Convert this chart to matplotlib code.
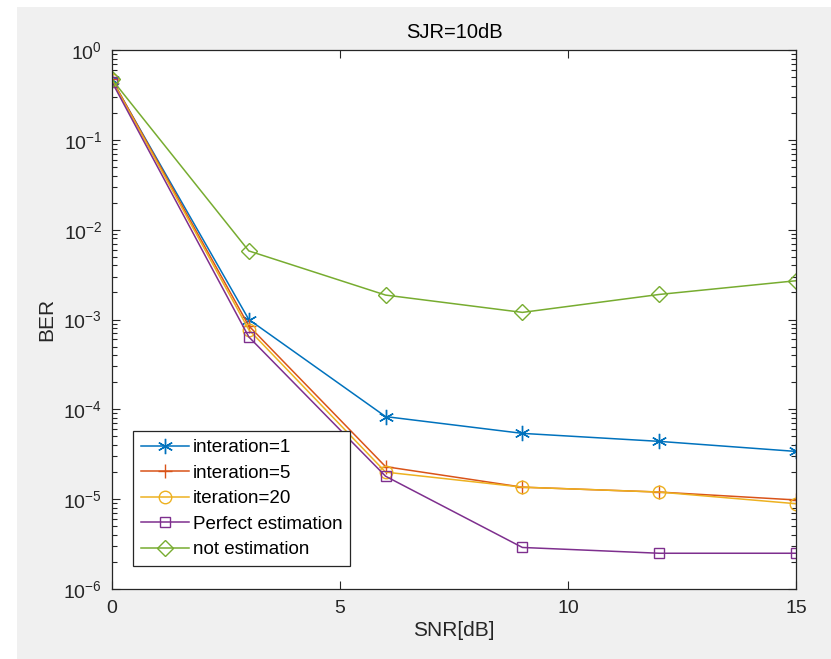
import matplotlib.pyplot as plt
import matplotlib.ticker as mticker
from matplotlib.patches import Rectangle

plt.rcParams['font.family'] = ['Liberation Sans', 'DejaVu Sans']

snr = [0, 3, 6, 9, 12, 15]
ber_it1 = [0.46, 1.0e-3, 8.3e-5, 5.4e-5, 4.4e-5, 3.4e-5]
ber_it5 = [0.47, 8.5e-4, 2.3e-5, 1.36e-5, 1.2e-5, 9.8e-6]
ber_it20 = [0.46, 7.7e-4, 2.0e-5, 1.36e-5, 1.2e-5, 8.9e-6]
ber_perfect = [0.44, 6.4e-4, 1.8e-5, 2.9e-6, 2.5e-6, 2.5e-6]
ber_none = [0.47, 5.8e-3, 1.87e-3, 1.2e-3, 1.9e-3, 2.7e-3]

labels = ['interation=1', 'interation=5', 'iteration=20',
          'Perfect estimation', 'not estimation']

fig = plt.figure(figsize=(8.31, 6.59), dpi=100)
fig.patch.set_facecolor('#f0f0f0')
# white strip at the left/top edge of the screenshot
fig.patches.append(Rectangle((0, 0), 17/831, 1, transform=fig.transFigure,
                             facecolor='white', edgecolor='none', zorder=-1))
fig.patches.append(Rectangle((0, 1-7/659), 1, 7/659, transform=fig.transFigure,
                             facecolor='white', edgecolor='none', zorder=-1))

ax = fig.add_axes([112/831, 1-589/659, (796-112)/831, (589-50)/659])
ax.set_facecolor('white')

asterisk = (6, 2, 0)
ax.semilogy(snr, ber_it1, '-', marker=asterisk, color='#0072BD', ms=11, mew=1.0, lw=1.1, label=labels[0])
ax.semilogy(snr, ber_it5, '-+', color='#D95319', ms=10, mew=1.0, lw=1.1, label=labels[1])
ax.semilogy(snr, ber_it20, '-o', color='#EDB120', ms=9, mfc='none', mew=1.0, lw=1.1, label=labels[2])
ax.semilogy(snr, ber_perfect, '-s', color='#7E2F8E', ms=7.5, mfc='none', mew=1.0, lw=1.1, label=labels[3])
ax.semilogy(snr, ber_none, '-D', color='#77AC30', ms=8, mfc='none', mew=1.0, lw=1.1, label=labels[4])

ax.set_xlim(0, 15)
ax.set_ylim(1e-6, 1e0)
ax.set_xticks([0, 5, 10, 15])
ax.yaxis.set_major_locator(mticker.LogLocator(base=10, numticks=10))
ax.yaxis.set_minor_locator(mticker.LogLocator(base=10, subs=range(2, 10), numticks=10))
ax.yaxis.set_minor_formatter(mticker.NullFormatter())
ax.tick_params(which='both', direction='in', top=True, right=True,
               colors='#262626', labelsize=14, width=0.8)
ax.tick_params(which='major', length=6)
ax.tick_params(which='minor', length=3.5)
ax.tick_params(axis='x', pad=8)
ax.tick_params(axis='y', pad=7)
for s in ax.spines.values():
    s.set_color('#262626')
    s.set_linewidth(0.9)

ax.set_xlabel('SNR[dB]', fontsize=15, color='#262626', labelpad=3)
ax.set_ylabel('BER', fontsize=15, color='#262626', labelpad=5)
ax.set_title('SJR=10dB', fontsize=14.5, color='#000000', pad=9)

leg = ax.legend(loc='lower left', bbox_to_anchor=(0.031, 0.043), fontsize=13.5,
                fancybox=False, framealpha=1, edgecolor='#262626',
                handlelength=2.6, borderpad=0.4, labelspacing=0.45,
                handletextpad=0.2, borderaxespad=0)
leg.get_frame().set_linewidth(0.9)

fig.savefig('out.png', dpi=100, facecolor=fig.get_facecolor())
